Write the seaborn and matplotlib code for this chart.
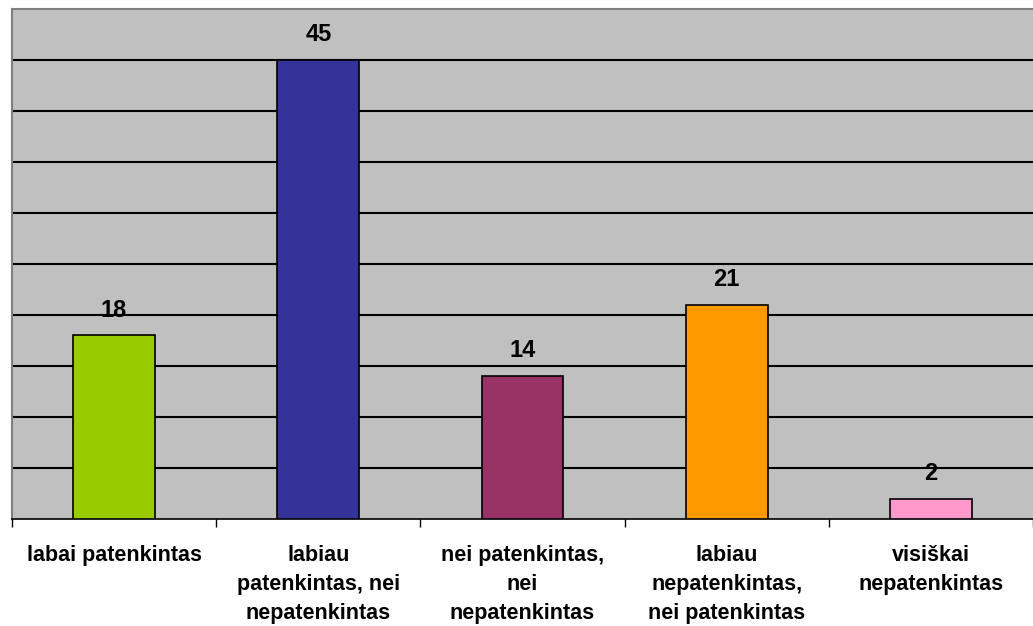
import matplotlib
matplotlib.use('Agg')
import matplotlib.pyplot as plt
import seaborn as sns
import numpy as np

categories = ['labai patenkintas',
              'labiau\npatenkintas, nei\nnepatenkintas',
              'nei patenkintas,\nnei\nnepatenkintas',
              'labiau\nnepatenkintas,\nnei patenkintas',
              'visiškai\nnepatenkintas']
values = [18, 45, 14, 21, 2]
colors = ['#99CC00', '#333399', '#993366', '#FF9900', '#FF99CC']

sns.set_style('white')
plt.rcParams['font.family'] = ['Liberation Sans', 'DejaVu Sans']
plt.rcParams['text.color'] = 'black'
plt.rcParams['xtick.color'] = 'black'
plt.rcParams['xtick.labelcolor'] = 'black'

fig = plt.figure(figsize=(10.33, 6.26), dpi=100)
ax = fig.add_axes([12/1033, 107/626, 1 - 12/1033, 510/626])
ax.set_facecolor('#C0C0C0')

sns.barplot(x=categories, y=values, hue=categories, palette=colors,
            width=0.4, edgecolor='black', linewidth=1.2, legend=False,
            saturation=1, ax=ax, zorder=3)

ax.set_ylim(0, 50)
ax.set_xlim(-0.5, 4.5)
ax.set_yticks(np.arange(5, 50, 5))
ax.yaxis.grid(True, color='black', linewidth=1.5, zorder=0)
ax.set_axisbelow(True)
ax.tick_params(axis='y', length=0, labelleft=False)

# tick marks at category borders, labels at centres
ax.set_xticks(range(len(categories)))
ax.set_xticklabels(categories, fontsize=15.5, fontweight='bold',
                   linespacing=1.5, color='black')
ax.set_xticks(np.arange(-0.5, 5, 1), minor=True)
ax.tick_params(axis='x', which='major', bottom=False, length=0, pad=19)
ax.tick_params(axis='x', which='minor', bottom=True, length=6, width=1,
               color='black', direction='out')
ax.set_xlabel('')
ax.set_ylabel('')

for c in ax.containers:
    ax.bar_label(c, fontsize=17, fontweight='bold', padding=10, color='black')

for s in ['left', 'top']:
    ax.spines[s].set_color('#808080')
    ax.spines[s].set_linewidth(1.5)
ax.spines['right'].set_visible(False)
ax.spines['bottom'].set_color('black')
ax.spines['bottom'].set_linewidth(1.2)

fig.savefig('out.png', dpi=100)
